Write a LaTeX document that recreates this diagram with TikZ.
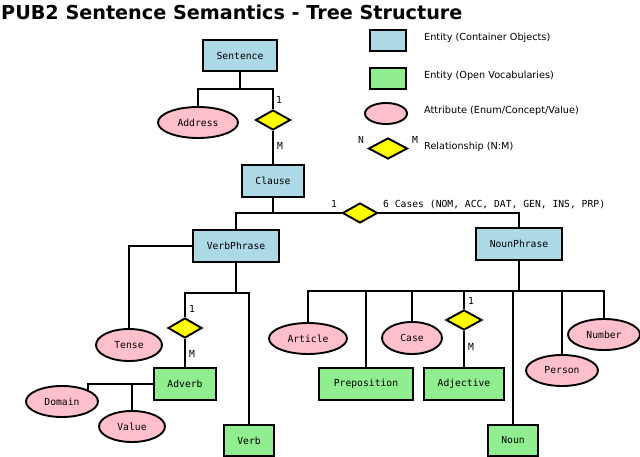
\documentclass[tikz,border=0pt]{standalone}
\usepackage{fontspec}
\setmainfont{DejaVu Sans}
\newfontfamily\monof{DejaVu Sans Mono}
\usetikzlibrary{shapes.geometric}
\definecolor{cblue}{HTML}{ADD8E6}
\definecolor{cgreen}{HTML}{90EE90}
\definecolor{cpink}{HTML}{FFC0CB}
\definecolor{cyell}{HTML}{FFFF00}
\begin{document}
\begin{tikzpicture}[x=1pt,y=-1pt,
  lw/.style={line width=1.9pt},
  mono/.style={font=\monof\fontsize{9.7}{11}\selectfont},
  ent/.style={draw,lw,fill=cblue,inner sep=0pt,mono},
  voc/.style={draw,lw,fill=cgreen,inner sep=0pt,mono},
  attr/.style={ellipse,draw,lw,fill=cpink,inner sep=0pt,mono},
  rel/.style={diamond,draw,lw,fill=cyell,inner sep=0pt,minimum width=35pt,minimum height=20pt},
  lbl/.style={mono,inner sep=0pt},
  leg/.style={font=\fontsize{9.7}{11}\selectfont,inner sep=0pt,anchor=west},
  conn/.style={lw}
]
\useasboundingbox (0,0) rectangle (640,457);
% title
\node[anchor=base west,inner sep=0pt,font=\bfseries\fontsize{19.2}{21}\selectfont] (title) at (1,20) {PUB2 Sentence Semantics - Tree Structure};

% legend
\node[draw,lw,fill=cblue,minimum width=36pt,minimum height=21pt,inner sep=0pt] (lg1) at (388,40.5) {};
\node[draw,lw,fill=cgreen,minimum width=36pt,minimum height=21pt,inner sep=0pt] (lg2) at (388,78.5) {};
\node[ellipse,draw,lw,fill=cpink,minimum width=42pt,minimum height=21pt,inner sep=0pt] (lg3) at (386,113.5) {};
\node[rel,minimum width=39pt,minimum height=21pt] (lg4) at (388,148.5) {};
\node[lbl] (lgN) at (361,140) {N};
\node[lbl] (lgM) at (415,140) {M};
\node[leg] (lt1) at (424,38) {Entity (Container Objects)};
\node[leg] (lt2) at (424,76) {Entity (Open Vocabularies)};
\node[leg] (lt3) at (424,111) {Attribute (Enum/Concept/Value)};
\node[leg] (lt4) at (424,147) {Relationship (N:M)};

% entities
\node[ent,minimum width=74pt,minimum height=31pt] (sentence) at (240,55.5) {Sentence};
\node[ent,minimum width=62pt,minimum height=32pt] (clause) at (273,181) {Clause};
\node[ent,minimum width=86pt,minimum height=32pt] (vp) at (236,246) {VerbPhrase};
\node[ent,minimum width=86pt,minimum height=32pt] (np) at (519,244) {NounPhrase};
\node[voc,minimum width=62pt,minimum height=32pt] (adverb) at (185,384) {Adverb};
\node[voc,minimum width=50pt,minimum height=31pt] (verb) at (249,440.5) {Verb};
\node[voc,minimum width=94pt,minimum height=32pt] (prep) at (366,384) {Preposition};
\node[voc,minimum width=80pt,minimum height=32pt] (adj) at (464,384) {Adjective};
\node[voc,minimum width=50pt,minimum height=31pt] (noun) at (513,440.5) {Noun};

% attributes
\node[attr,minimum width=80pt,minimum height=31pt] (address) at (198,122.5) {Address};
\node[attr,minimum width=66pt,minimum height=32pt] (tense) at (129,345) {Tense};
\node[attr,minimum width=72pt,minimum height=31pt] (domain) at (62,401.5) {Domain};
\node[attr,minimum width=66pt,minimum height=31pt] (value) at (132,426.5) {Value};
\node[attr,minimum width=78pt,minimum height=31pt] (article) at (308,338.5) {Article};
\node[attr,minimum width=60pt,minimum height=32pt] (case) at (412,338) {Case};
\node[attr,minimum width=72pt,minimum height=31pt] (person) at (562,370.5) {Person};
\node[attr,minimum width=72pt,minimum height=31pt] (number) at (604,334.5) {Number};

% relationships
\node[rel] (r1) at (273,120) {};
\node[rel] (r2) at (360,213) {};
\node[rel,minimum width=34pt] (r3) at (185,328) {};
\node[rel,minimum width=36pt] (r4) at (464,320) {};

% cardinality labels
\node[lbl] (c1a) at (279,100) {1};
\node[lbl] (c1b) at (280,146) {M};
\node[lbl] (c2a) at (334,204) {1};
\node[lbl,anchor=west] (c2b) at (383,204) {6 Cases (NOM, ACC, DAT, GEN, INS, PRP)};
\node[lbl] (c3a) at (192,309) {1};
\node[lbl] (c3b) at (192,354) {M};
\node[lbl] (c4a) at (471,301) {1};
\node[lbl] (c4b) at (471,347) {M};

% junctions
\coordinate (j1) at (240,89);
\coordinate (j2) at (273,213);
\coordinate (j3) at (236,293);
\coordinate (j4) at (519,291);

% connectors
\draw[conn] (sentence.south) -- (j1);
\draw[conn] (address.north) |- (j1) -| (r1.north);
\draw[conn] (r1.south) -- (clause.north);
\draw[conn] (clause.south) -- (j2);
\draw[conn] (vp.north) |- (j2) -- (r2.west);
\draw[conn] (r2.east) -| (np.north);
\draw[conn] (vp.west) -| (tense.north);
\draw[conn] (vp.south) -- (j3);
\draw[conn] (r3.north) |- (j3) -| (verb.north);
\draw[conn] (r3.south) -- (adverb.north);
\draw[conn] (adverb.west) -| (domain.north east);
\draw[conn] (value.north) -- (value.north |- adverb.west);
\draw[line width=2.4pt] (np.south) -- (j4);
\draw[conn] (article.north) |- (j4);
\draw[conn] (prep.north) |- (j4);
\draw[conn] (case.north) |- (j4);
\draw[conn] (r4.north) |- (j4);
\draw[conn] (noun.north) |- (j4);
\draw[conn] (j4) -| (person.north);
\draw[conn] (j4) -| (number.north);
\draw[conn] (r4.south) -- (adj.north);
\end{tikzpicture}
\end{document}
